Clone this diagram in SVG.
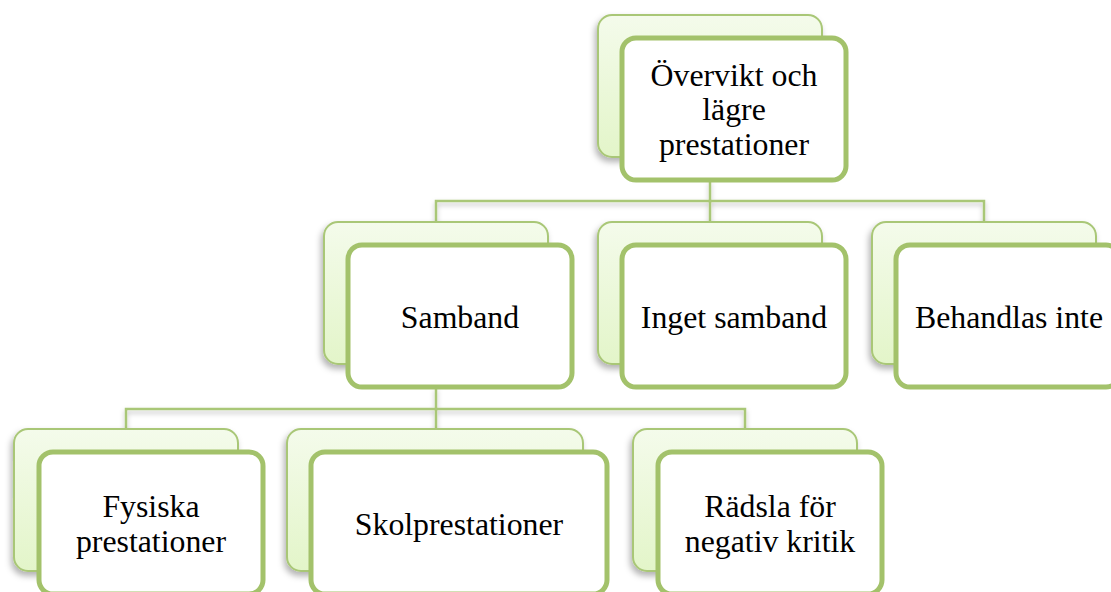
<svg xmlns="http://www.w3.org/2000/svg" width="1111" height="592" viewBox="0 0 1111 592">
<defs>
<linearGradient id="g" x1="0" y1="0" x2="0" y2="1">
<stop offset="0" stop-color="#f4fbeb"/>
<stop offset="1" stop-color="#e3f5c9"/>
</linearGradient>
<filter id="sh" x="-20%" y="-20%" width="140%" height="150%">
<feDropShadow dx="-2" dy="4" stdDeviation="3" flood-color="#000" flood-opacity="0.3"/>
</filter>
<filter id="lsh" x="-5%" y="-50%" width="110%" height="300%">
<feDropShadow dx="0" dy="3" stdDeviation="2.5" flood-color="#000" flood-opacity="0.25"/>
</filter>
</defs>
<style>
.back{fill:url(#g);stroke:#a9c777;stroke-width:2;filter:url(#sh)}
.front{fill:#fff;stroke:#a3c26b;stroke-width:5}
.conn{fill:none;stroke:#a9c777;stroke-width:2.5;filter:url(#lsh)}
.t{font-size:31.8px;fill:#000;text-anchor:middle}
</style>
<rect width="1111" height="592" fill="#fff"/>
<g id="connectors">
<path class="conn" d="M710 180 V201 M436 222 V201 H984 V222 M710 201 V222"/>
<path class="conn" d="M436 387 V409 M126 429 V409 H745 V429 M436 409 V429"/>
</g>
<g font-family="Liberation Serif, Times New Roman, Times, serif">
<g id="n1">
<rect class="back" x="598" y="15" width="224" height="142" rx="14"/>
<rect class="front" x="622" y="38" width="224" height="142" rx="14"/>
<text class="t" x="734" y="86">Övervikt och</text>
<text class="t" x="734" y="120">lägre</text>
<text class="t" x="734" y="155">prestationer</text>
</g>
<g id="n2">
<rect class="back" x="324" y="222" width="224" height="142" rx="14"/>
<rect class="front" x="348" y="245" width="224" height="142" rx="14"/>
<text class="t" x="460" y="328">Samband</text>
</g>
<g id="n3">
<rect class="back" x="598" y="222" width="224" height="142" rx="14"/>
<rect class="front" x="622" y="245" width="224" height="142" rx="14"/>
<text class="t" x="734" y="328">Inget samband</text>
</g>
<g id="n4">
<rect class="back" x="872" y="222" width="224" height="142" rx="14"/>
<rect class="front" x="896" y="245" width="224" height="142" rx="14"/>
<text class="t" x="1009" y="328">Behandlas inte</text>
</g>
<g id="n5">
<rect class="back" x="14" y="429" width="224" height="142" rx="14"/>
<rect class="front" x="39" y="452" width="224" height="142" rx="14"/>
<text class="t" x="151" y="517">Fysiska</text>
<text class="t" x="151" y="552">prestationer</text>
</g>
<g id="n6">
<rect class="back" x="287" y="429" width="296" height="142" rx="14"/>
<rect class="front" x="311" y="452" width="296" height="142" rx="14"/>
<text class="t" x="459" y="535">Skolprestationer</text>
</g>
<g id="n7">
<rect class="back" x="633" y="429" width="224" height="142" rx="14"/>
<rect class="front" x="658" y="452" width="224" height="142" rx="14"/>
<text class="t" x="770" y="517">Rädsla för</text>
<text class="t" x="770" y="552">negativ kritik</text>
</g>
</g>
</svg>
